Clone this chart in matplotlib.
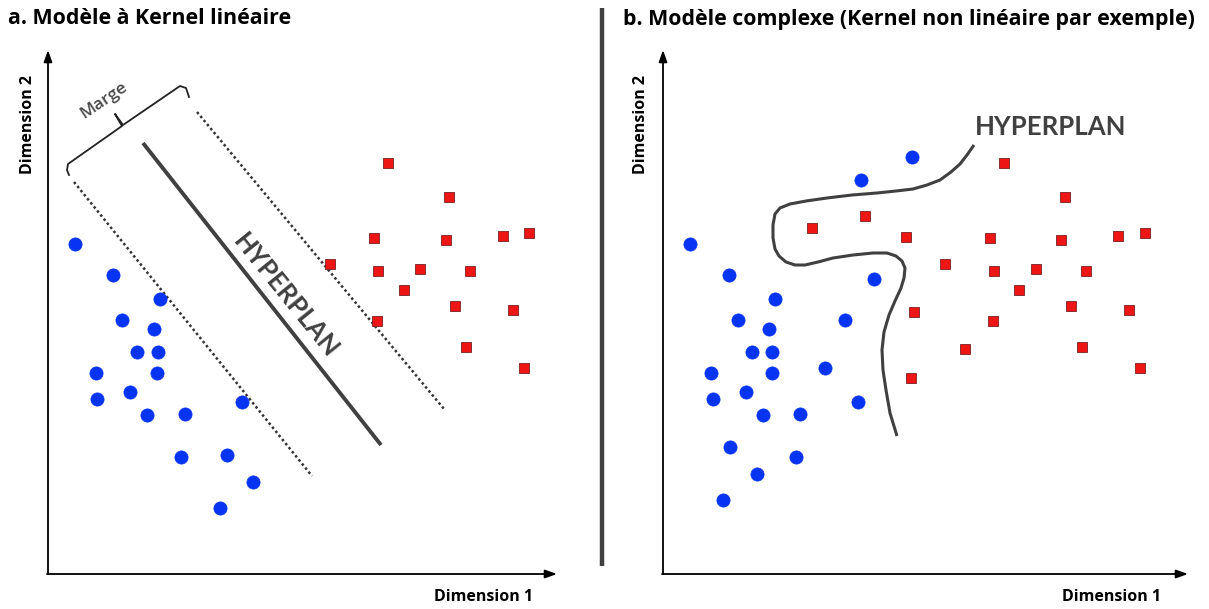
import matplotlib
matplotlib.use("Agg")
import matplotlib.pyplot as plt

plt.rcParams['font.family'] = ['Open Sans', 'DejaVu Sans']

# ---------------- data (pixel-space coordinates of the schematic) ----------------
# Panel a: linear kernel
a_blue_x = [75, 113, 160, 122, 154, 137, 158, 96, 157, 130, 97, 147, 185, 242, 181, 227, 253, 220]
a_blue_y = [244, 275, 299, 320, 329, 352, 352, 373, 373, 392, 399, 415, 414, 402, 457, 455, 482, 508]
a_red_x = [388, 449, 374, 446, 503, 529, 330, 378, 420, 470, 404, 455, 377, 513, 466, 524]
a_red_y = [163, 197, 238, 240, 236, 233, 264, 271, 269, 271, 290, 306, 321, 310, 347, 368]

hyperplane_x = [143, 381]
hyperplane_y = [143, 445]
margin_low_x = [74, 312]
margin_low_y = [182, 476]
margin_high_x = [197, 444]
margin_high_y = [112, 409]
bracket_x = [69, 67, 68, 122, 115, 123, 180, 186, 189]
bracket_y = [175, 170, 164, 126, 114, 125, 86, 88, 97]

# Panel b: complex (non-linear) kernel
b_blue_x = [690, 729, 775, 738, 769, 752, 772, 711, 772, 746, 713, 763, 800, 858,
            730, 796, 757, 723, 874, 845, 825, 861, 912]
b_blue_y = [244, 275, 299, 320, 329, 352, 352, 373, 373, 392, 399, 415, 414, 402,
            447, 457, 474, 500, 279, 320, 368, 180, 157]
b_red_x = [1004, 1065, 865, 812, 906, 990, 1061, 1118, 1145, 945, 994, 1036, 1086,
           1019, 914, 1071, 1129, 993, 965, 1082, 1140, 911]
b_red_y = [163, 197, 216, 228, 237, 238, 240, 236, 233, 264, 271, 269, 271,
           290, 312, 306, 310, 321, 349, 347, 368, 378]

curve_x = [974, 967, 960, 951, 940, 927, 913, 896, 877, 852, 827, 806, 790, 780, 775,
           773, 773, 775, 779, 786, 795, 805, 818, 833, 853, 873, 887, 896, 902, 905,
           904, 901, 895, 889, 884, 882, 883, 886, 890, 897]
curve_y = [145, 155, 164, 172, 180, 185, 189, 191, 193, 195, 198, 201, 204, 208, 214,
           225, 238, 249, 256, 262, 265, 265, 262, 258, 255, 253, 253, 256, 261, 268,
           278, 288, 301, 315, 332, 350, 370, 390, 413, 436]

BLUE = '#0634f2'
RED = '#ee1515'
GRAY = '#404040'
HFONT = ['Lato', 'DejaVu Sans']

fig = plt.figure(figsize=(12.09, 6.09), dpi=100)
ax = fig.add_axes([0, 0, 1, 1])
ax.set_xlim(0, 1209)
ax.set_ylim(609, 0)
ax.axis('off')

arrow = dict(arrowstyle='-|>,head_length=0.7,head_width=0.25', color='black', lw=1.3,
             shrinkA=0, shrinkB=0)

# ---------------- panel a ----------------
ax.annotate('', xy=(48, 50), xytext=(48, 574), arrowprops=arrow)
ax.annotate('', xy=(557, 574), xytext=(47, 574), arrowprops=arrow)

ax.plot(margin_low_x, margin_low_y, linestyle=(0, (1, 1.1)), color='#333333', lw=1.8)
ax.plot(margin_high_x, margin_high_y, linestyle=(0, (1, 1.1)), color='#333333', lw=1.8)
ax.plot(hyperplane_x, hyperplane_y, color=GRAY, lw=2.8, solid_capstyle='butt')
ax.plot(bracket_x, bracket_y, color='#222222', lw=1.3, solid_joinstyle='round')

ax.plot(a_blue_x, a_blue_y, 'o', ms=9.5, color=BLUE, mec=BLUE, mew=0.5)
ax.plot(a_red_x, a_red_y, 's', ms=6.8, color=RED, mec='#7a2020', mew=0.6)

ax.text(8, 19, 'a. Modèle à Kernel linéaire', fontsize=15.4, fontweight='bold',
        ha='left', va='center', color='black')
ax.text(28, 124, 'Dimension 2', fontsize=11.5, fontweight='bold', rotation=90,
        ha='center', va='center', color='black')
ax.text(484, 597, 'Dimension 1', fontsize=11.5, fontweight='bold',
        ha='center', va='center', color='black')
ax.text(104, 100, 'Marge', fontsize=12.5, fontweight='semibold', rotation=34,
        ha='center', va='center', color='#4a4a4a', rotation_mode='anchor')
ax.text(286, 296, 'HYPERPLAN', fontsize=18.5, fontweight='bold', rotation=-51,
        ha='center', va='center', color=GRAY, rotation_mode='anchor', family=HFONT)

# separator
ax.plot([602, 602], [8, 566], color=GRAY, lw=3.2, solid_capstyle='butt')

# ---------------- panel b ----------------
ax.annotate('', xy=(663, 50), xytext=(663, 574), arrowprops=arrow)
ax.annotate('', xy=(1188, 574), xytext=(662, 574), arrowprops=arrow)

ax.plot(curve_x, curve_y, color=GRAY, lw=2.2, solid_joinstyle='round',
        solid_capstyle='butt')

ax.plot(b_blue_x, b_blue_y, 'o', ms=9.5, color=BLUE, mec=BLUE, mew=0.5)
ax.plot(b_red_x, b_red_y, 's', ms=6.8, color=RED, mec='#7a2020', mew=0.6)

ax.text(623, 19, 'b. Modèle complexe (Kernel non linéaire par exemple)', fontsize=15.4,
        fontweight='bold', ha='left', va='center', color='black')
ax.text(641, 124, 'Dimension 2', fontsize=11.5, fontweight='bold', rotation=90,
        ha='center', va='center', color='black')
ax.text(1112, 597, 'Dimension 1', fontsize=11.5, fontweight='bold',
        ha='center', va='center', color='black')
ax.text(1051, 127, 'HYPERPLAN', fontsize=18.5, fontweight='bold',
        ha='center', va='center', color=GRAY, family=HFONT)

fig.savefig('out.png', dpi=100, facecolor='white')
